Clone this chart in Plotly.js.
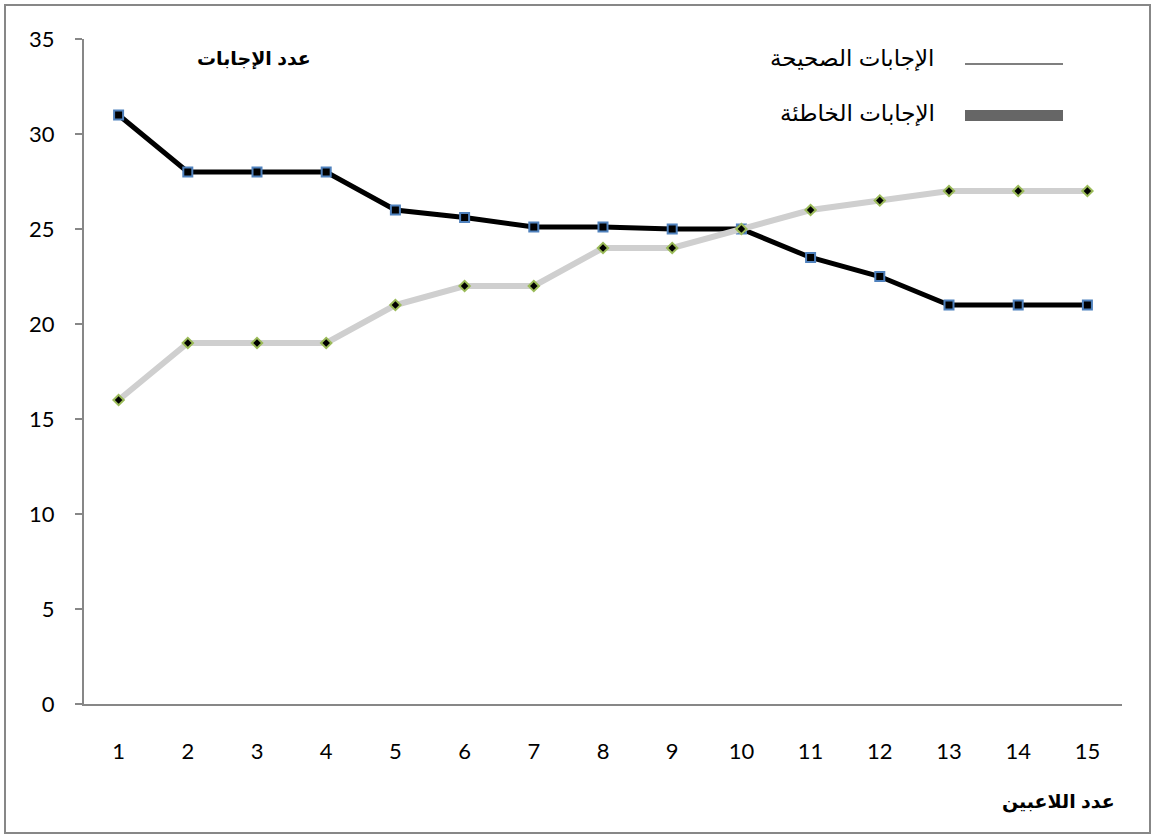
<!DOCTYPE html>
<html>
<head>
<meta charset="utf-8">
<script src="https://cdn.plot.ly/plotly-3.0.1.min.js"></script>
<style>
  html, body { margin: 0; padding: 0; background: #ffffff; }
  #wrap { position: relative; width: 1153px; height: 839px; }
  #chart { position: absolute; left: 0; top: 0; width: 1153px; height: 839px; }
  #frame { position: absolute; left: 4px; top: 4px; width: 1143px; height: 826px;
           border: 2px solid #878787; pointer-events: none; }
</style>
</head>
<body>
<div id="wrap">
  <div id="chart"></div>
  <div id="frame"></div>
</div>
<script>
// Data
var players = [1, 2, 3, 4, 5, 6, 7, 8, 9, 10, 11, 12, 13, 14, 15];
var correctAnswers = [16, 19, 19, 19, 21, 22, 22, 24, 24, 25, 26, 26.5, 27, 27, 27];
var wrongAnswers = [31, 28, 28, 28, 26, 25.6, 25.1, 25.1, 25, 25, 23.5, 22.5, 21, 21, 21];
var yTicks = [0, 5, 10, 15, 20, 25, 30, 35];
var correctLabel = 'الإجابات الصحيحة';
var wrongLabel = 'الإجابات الخاطئة';
var yTitle = 'عدد الإجابات';
var xTitle = 'عدد اللاعبين';

var numFont = 'Lato, Carlito, "Liberation Sans", sans-serif';
var arFont = '"Liberation Sans", Arial, "DejaVu Sans", sans-serif';

var traces = [
  {
    x: players, y: wrongAnswers, type: 'scatter', mode: 'lines+markers',
    name: wrongLabel,
    line: { color: '#000000', width: 5 },
    marker: { symbol: 'square', size: 9, color: '#000000', line: { color: '#4f81bd', width: 2 } },
    showlegend: false
  },
  {
    x: players, y: correctAnswers, type: 'scatter', mode: 'lines+markers',
    name: correctLabel,
    line: { color: '#cfcfcf', width: 6 },
    marker: { symbol: 'diamond', size: 8, color: '#000000', line: { color: '#9bbb59', width: 2 } },
    showlegend: false
  }
];

var layout = {
  width: 1153, height: 839,
  margin: { l: 84, r: 31, t: 39, b: 135 },
  paper_bgcolor: 'rgba(0,0,0,0)',
  plot_bgcolor: '#ffffff',
  showlegend: false,
  xaxis: {
    type: 'linear',
    range: [0.5, 15.5],
    tickvals: players,
    ticktext: players.map(String),
    showgrid: false, zeroline: false,
    showline: true, linecolor: '#878787', linewidth: 2,
    ticks: '', ticklabelstandoff: 27,
    tickfont: { family: numFont, size: 22, color: '#000000' }
  },
  yaxis: {
    range: [0, 35],
    tickvals: yTicks,
    ticktext: yTicks.map(String),
    showgrid: false, zeroline: false,
    showline: true, linecolor: '#878787', linewidth: 2,
    ticks: 'outside', ticklen: 7, tickcolor: '#878787', tickwidth: 2,
    ticklabelstandoff: 16,
    tickfont: { family: numFont, size: 22, color: '#000000' }
  },
  shapes: [
    { type: 'line', xref: 'paper', yref: 'paper',
      x0: (965 - 84) / 1038, x1: (1063 - 84) / 1038,
      y0: (704 - 64) / 665, y1: (704 - 64) / 665,
      line: { color: '#7f7f7f', width: 2 } },
    { type: 'rect', xref: 'paper', yref: 'paper',
      x0: (965 - 84) / 1038, x1: (1063 - 84) / 1038,
      y0: (704 - 121) / 665, y1: (704 - 110) / 665,
      fillcolor: '#666666', line: { width: 0 } }
  ],
  annotations: [
    { xref: 'paper', yref: 'paper', x: (937 - 84) / 1038, y: (704 - 58) / 665,
      xanchor: 'right', yanchor: 'middle', showarrow: false, text: correctLabel,
      font: { family: arFont, size: 23, color: '#000000' } },
    { xref: 'paper', yref: 'paper', x: (937 - 84) / 1038, y: (704 - 113) / 665,
      xanchor: 'right', yanchor: 'middle', showarrow: false, text: wrongLabel,
      font: { family: arFont, size: 23, color: '#000000' } },
    { xref: 'paper', yref: 'paper', x: (254 - 84) / 1038, y: (704 - 59) / 665,
      xanchor: 'center', yanchor: 'middle', showarrow: false, text: '<b>' + yTitle + '</b>',
      font: { family: arFont, size: 19, color: '#000000' } },
    { xref: 'paper', yref: 'paper', x: (1058 - 84) / 1038, y: (704 - 802) / 665,
      xanchor: 'center', yanchor: 'middle', showarrow: false, text: '<b>' + xTitle + '</b>',
      font: { family: arFont, size: 19, color: '#000000' } }
  ]
};

Plotly.newPlot('chart', traces, layout, { displayModeBar: false, staticPlot: true });
</script>
</body>
</html>
